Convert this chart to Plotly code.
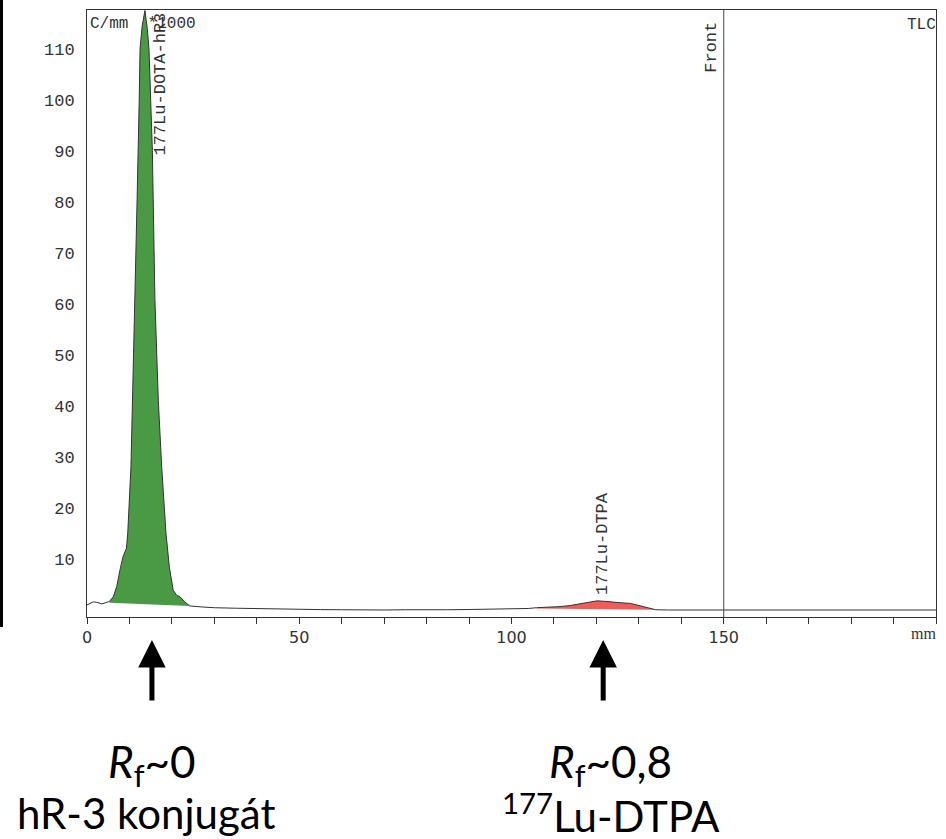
import plotly.graph_objects as go

# Radio-TLC scan: counts (C/mm *1000) vs distance (mm)
main_x = [0, 1.5, 2.3, 3.5, 5.0, 5.3, 6.2, 7.0, 7.9, 8.5, 9.3, 9.6, 10.35, 10.75, 11.3, 11.8,
          12.3, 12.5, 13.0, 13.65, 14.2, 14.6, 15.0, 15.4, 16.0, 16.8, 17.6, 18.6, 19.4,
          20.3, 21.1, 21.9, 23.0, 24.2, 27, 30, 35, 40, 45, 50, 55, 60, 65, 70, 75, 80,
          85, 90, 95, 100, 104, 105.9, 108, 111, 113.6, 116, 118, 120.2, 122, 124, 126,
          128, 130, 132, 134, 137, 140, 145, 150, 155, 160, 165, 170, 175, 180, 185,
          190, 195, 200]
main_y = [1.0, 1.6, 1.5, 1.2, 1.6, 1.7, 2.6, 4.6, 8.4, 10.5, 12.1, 15.1, 28.0, 41.0, 60.8, 80.4,
          100.0, 110.0, 114.5, 117.5, 114.0, 110.0, 100.0, 90.0, 60.8, 41.0, 28.0, 15.1, 8.4,
          3.9, 2.9, 2.6, 1.6, 0.8, 0.6, 0.45, 0.35, 0.25, 0.18, 0.1, 0.08, 0.05, 0.0, 0.0, 0.05, 0.0,
          0.05, 0.1, 0.15, 0.2, 0.3, 0.45, 0.5, 0.65, 0.85, 1.2, 1.6, 1.8, 1.7, 1.5, 1.4,
          1.3, 0.9, 0.4, 0.05, 0.0, 0.0, -0.05, -0.1, 0.0, -0.05, 0.0, -0.05, 0.0, -0.05, 0.0,
          0.0, -0.05, 0.0]

green_range = [5.3, 24.2]
green_base_y = [1.4, 0.8]
red_range = [105.9, 134]
red_base_y = [0.3, 0.05]

y_ticks = [10, 20, 30, 40, 50, 60, 70, 80, 90, 100, 110]
x_ticks = [0, 50, 100, 150]
front_x = 150

peak_labels = ["177Lu-DOTA-hR3", "177Lu-DTPA"]
peak_label_x = [17.2, 121.4]
peak_label_y = [103, 13]

arrow_x = [15.3, 121.6]
bottom_x = [15.3, 123.4]
name_x = [14.0, 123.4]
bottom_rf = ["<i>R</i><sub>f</sub>~0", "<i>R</i><sub>f</sub>~0,8"]
bottom_name = ["hR-3 konjugát", "<sup>177</sup>Lu-DTPA"]

LINE = "#333333"
MONO = "Liberation Mono"

fig = go.Figure()


def add_peak(rng, base_y, color):
    seg_x = [x for x in main_x if rng[0] <= x <= rng[1]]
    seg_y = [y for x, y in zip(main_x, main_y) if rng[0] <= x <= rng[1]]
    fig.add_trace(go.Scatter(x=rng, y=base_y, mode="lines", line=dict(width=0, color=color),
                             showlegend=False, hoverinfo="skip"))
    fig.add_trace(go.Scatter(x=seg_x, y=seg_y, mode="lines", line=dict(width=0, color=color),
                             fill="tonexty", fillcolor=color, showlegend=False, hoverinfo="skip"))


add_peak(green_range, green_base_y, "#4a9a45")
add_peak(red_range, red_base_y, "#ee5c5c")

fig.add_trace(go.Scatter(x=main_x, y=main_y, mode="lines", line=dict(color=LINE, width=1),
                         showlegend=False))

fig.add_shape(type="line", xref="x", yref="paper", x0=front_x, x1=front_x, y0=0, y1=1,
              line=dict(color="#444444", width=1))

# black border line at the left edge of the picture
fig.add_shape(type="line", xref="paper", yref="paper", x0=-0.1007, x1=-0.1007, y0=-0.0165,
              y1=1.02, line=dict(color="black", width=3))

annotations = []
for lab, lx, ly in zip(peak_labels, peak_label_x, peak_label_y):
    annotations.append(dict(x=lx, y=ly, xref="x", yref="y", text=lab, showarrow=False,
                            textangle=-90, font=dict(family=MONO, size=17, color=LINE)))
annotations.append(dict(x=front_x, y=1, xref="x", yref="paper", text="Front", showarrow=False,
                        textangle=-90, xanchor="right", yanchor="top", xshift=-1, yshift=-10,
                        font=dict(family=MONO, size=17, color=LINE)))
annotations.append(dict(x=0, y=1, xref="paper", yref="paper", text="C/mm  *1000", showarrow=False,
                        xanchor="left", yanchor="top", xshift=1, yshift=-3,
                        font=dict(family=MONO, size=16, color=LINE)))
annotations.append(dict(x=1, y=1, xref="paper", yref="paper", text="TLC", showarrow=False,
                        xanchor="right", yanchor="top", xshift=2, yshift=-4,
                        font=dict(family=MONO, size=16, color=LINE)))
annotations.append(dict(x=1, y=0, xref="paper", yref="paper", text="mm", showarrow=False,
                        xanchor="right", yanchor="top", xshift=2, yshift=-6,
                        font=dict(family="Liberation Serif", size=16, color=LINE)))
for ax_, bx, nx, rf, nm in zip(arrow_x, bottom_x, name_x, bottom_rf, bottom_name):
    annotations.append(dict(x=ax_, y=-0.0379, xref="x", yref="paper", ax=0, ay=62, text="",
                            showarrow=True, arrowhead=2, arrowsize=1.1, arrowwidth=5,
                            arrowcolor="black"))
    annotations.append(dict(x=bx, y=-0.2425, xref="x", yref="paper", text=rf, showarrow=False,
                            yanchor="middle", font=dict(family="Lato", size=44, color="black")))
    annotations.append(dict(x=nx, y=-0.3225, xref="x", yref="paper", text=nm, showarrow=False,
                            yanchor="middle", font=dict(family="Lato", size=42, color="black")))

fig.update_layout(
    width=946, height=839,
    margin=dict(l=87, r=10, t=10, b=222, autoexpand=False),
    paper_bgcolor="white", plot_bgcolor="white",
    annotations=annotations,
    xaxis=dict(range=[0, 200], tickvals=x_ticks, ticktext=[str(v) for v in x_ticks],
               ticks="outside", ticklen=6, tickcolor=LINE, showgrid=False, zeroline=False,
               showline=True, linecolor=LINE, linewidth=1, mirror=True, automargin=False,
               minor=dict(dtick=10, tick0=0, ticks="outside", ticklen=6, tickcolor=LINE, showgrid=False),
               tickfont=dict(family="DejaVu Sans", size=16, color=LINE)),
    yaxis=dict(range=[-1.37, 117.6], tickvals=y_ticks, ticks="", showgrid=False, zeroline=False,
               showline=True, linecolor=LINE, linewidth=1, mirror=True, ticklabelstandoff=8,
               automargin=False, tickfont=dict(family=MONO, size=17, color=LINE)),
)

fig.write_html("out.html", config={"displayModeBar": False},
               post_script="document.body.style.margin='0';document.body.style.overflow='hidden';")
